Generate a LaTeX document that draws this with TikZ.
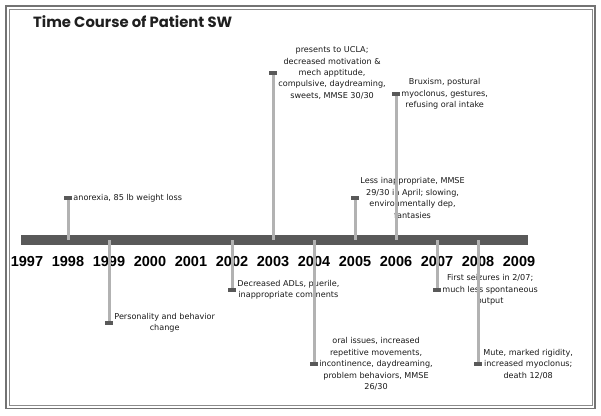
\documentclass[tikz,border=0pt]{standalone}
\usepackage{fontspec}
\setmainfont{DejaVu Sans}
\newfontfamily\titlefont{Poppins}
\newfontfamily\yearfont{Liberation Sans}
\usetikzlibrary{positioning}
\pgfdeclarelayer{background}
\pgfsetlayers{background,main}

\begin{document}
\begin{tikzpicture}[x=1pt,y=-1pt,
  evtext/.style={font=\fontsize{8.1}{11.4}\selectfont, text=black!90, align=center, anchor=west, inner sep=1pt},
  evbox/.style={fill=black!65, minimum width=8pt, minimum height=4pt, inner sep=0pt},
  stemline/.style={draw=black!30, line width=3pt},
  yearlbl/.style={font=\yearfont\bfseries\fontsize{14.5}{16}\selectfont}]
\useasboundingbox (0,0) rectangle (601,415);
\draw[black!55, line width=1.4pt] (6,6) rectangle (595,408.5);
\draw[black!45, line width=0.8pt] (9.5,9.5) rectangle (592,405);
\node[anchor=base west, inner sep=0pt, text=black!88, font=\titlefont\bfseries\fontsize{14.8}{17}\selectfont] (title) at (33,27) {Time Course of Patient SW};
% time axis
\begin{pgfonlayer}{background}
\node[fill=black!65, minimum width=507pt, minimum height=10pt, inner sep=0pt] (bar) at (274.5,240) {};
\end{pgfonlayer}
\foreach \yr [count=\i from 0] in {1997,...,2009}{
  \coordinate (b\yr) at (27+41*\i,240);
  \node[yearlbl] (y\yr) at (27+41*\i,262) {\yr};
}
% events
\node[evbox] (m1998) at (68,198) {};
\node[evtext] (t1998) at (m1998.east) {anorexia, 85 lb weight loss};
\node[evbox] (m1999) at (109,323) {};
\node[evtext] (t1999) at (m1999.east) {Personality and behavior\\change};
\node[evbox] (m2002) at (232,290) {};
\node[evtext] (t2002) at (m2002.east) {Decreased ADLs, puerile,\\inappropriate comments};
\node[evbox] (m2003) at (273,73) {};
\node[evtext] (t2003) at (m2003.east) {presents to UCLA;\\decreased motivation \&\\mech apptitude,\\compulsive, daydreaming,\\sweets, MMSE 30/30};
\node[evbox] (m2004) at (314,364) {};
\node[evtext] (t2004) at (m2004.east) {oral issues, increased\\repetitive movements,\\incontinence, daydreaming,\\problem behaviors, MMSE\\26/30};
\node[evbox] (m2005) at (355,198) {};
\node[evtext] (t2005) at (m2005.east) {Less inappropriate, MMSE\\29/30 in April; slowing,\\environmentally dep,\\fantasies};
\node[evbox] (m2006) at (396,94) {};
\node[evtext] (t2006) at (m2006.east) {Bruxism, postural\\myoclonus, gestures,\\refusing oral intake};
\node[evbox] (m2007) at (437,290) {};
\node[evtext] (t2007) at (m2007.east) {First seizures in 2/07;\\much less spontaneous\\output};
\node[evbox] (m2008) at (478,364) {};
\node[evtext] (t2008) at (m2008.east) {Mute, marked rigidity,\\increased myoclonus;\\death 12/08};
% stems
\foreach \yr in {1998,2003,2005,2006}
  \draw[stemline] (b\yr) -- (m\yr.south);
\foreach \yr in {1999,2002,2004,2007,2008}
  \draw[stemline] (b\yr) -- (m\yr.north);
\end{tikzpicture}
\end{document}
